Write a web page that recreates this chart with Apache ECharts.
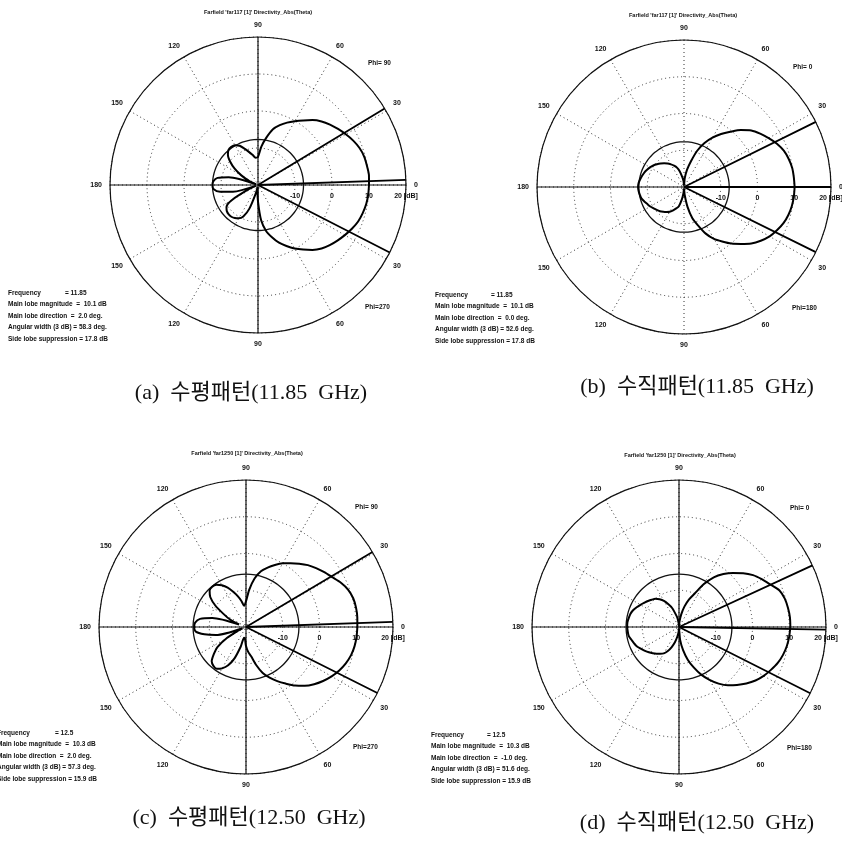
<!DOCTYPE html>
<html>
<head>
<meta charset="utf-8">
<script src="https://cdn.jsdelivr.net/npm/echarts@6/dist/echarts.min.js"></script>
<style>
  html, body { margin: 0; padding: 0; background: #fff; }
  #chart { width: 842px; height: 846px; }
</style>
</head>
<body>
<div id="chart"></div>
<script>
// Theta sampling of the far-field cuts (degrees, 0..360)
const ANGLES = [0,5,10,15,20,25,30,35,40,45,50,55,60,65,70,75,80,85,90,95,100,105,110,115,120,125,130,135,140,145,150,155,160,165,170,175,180,185,190,195,200,205,210,215,220,225,230,235,240,245,250,255,260,265,270,275,280,285,290,295,300,305,310,315,320,325,330,335,340,345,350,355,360];

// Directivity (dBi) along each cut
const DIR_H_1185 = [10.0,10.1,9.9,9.7,9.2,8.4,7.4,6.4,5.4,4.3,2.9,1.3,-0.1,-1.4,-2.8,-4.4,-7.0,-9.6,-12.4,-12.6,-11.8,-10.8,-9.6,-8.3,-7.6,-7.4,-7.6,-8.5,-10.2,-12.3,-14.8,-17.2,-19.5,-11.8,-8.9,-7.9,-7.7,-7.9,-9.6,-13.0,-19.5,-17.0,-11.8,-9.6,-9.0,-8.8,-8.8,-9.1,-9.6,-10.6,-13.2,-17.5,-19.5,-18.5,-15.5,-10.5,-7.4,-5.4,-3.4,-1.8,-0.2,1.3,2.9,4.3,5.3,6.2,7.1,8.0,8.8,9.3,9.7,9.9,10.0];
const DIR_V_1185 = [10.1,10.0,9.9,9.5,8.9,7.9,6.6,5.3,3.9,1.9,-0.4,-2.4,-4.5,-6.8,-9.5,-12.8,-15.2,-17.5,-19.5,-18.3,-17.2,-15.6,-14.4,-13.6,-12.9,-12.2,-11.6,-11.0,-10.4,-9.8,-9.3,-8.9,-8.5,-8.2,-7.9,-7.6,-7.5,-7.6,-7.8,-8.0,-8.5,-9.0,-9.4,-9.9,-10.3,-10.7,-11.2,-11.7,-12.2,-13.0,-13.8,-14.6,-16.5,-18.3,-19.5,-17.8,-14.5,-11.2,-8.9,-6.0,-3.7,-1.9,0.1,1.9,3.9,5.5,6.9,7.9,8.8,9.4,9.8,10.0,10.1];
const DIR_H_1250 = [10.3,10.4,10.4,10.2,9.6,8.5,7.1,6.0,4.9,3.8,2.5,1.2,0.0,-1.4,-2.8,-4.3,-6.6,-9.8,-13.0,-14.2,-12.8,-11.3,-9.8,-8.2,-6.9,-6.0,-5.7,-6.0,-7.3,-9.8,-13.0,-15.2,-18.0,-10.5,-7.3,-6.1,-5.9,-6.2,-8.5,-11.5,-19.0,-17.5,-14.0,-10.5,-8.6,-6.8,-6.2,-6.1,-7.0,-8.5,-11.0,-14.5,-17.0,-16.8,-14.8,-13.2,-11.9,-9.3,-6.7,-4.8,-3.0,-1.2,0.8,2.6,4.2,5.6,6.9,8.0,8.9,9.6,10.0,10.2,10.3];
const DIR_V_1250 = [10.3,10.3,10.1,9.8,9.1,7.4,6.0,4.6,2.8,0.8,-1.2,-3.5,-6.6,-10.0,-12.0,-14.2,-16.5,-18.5,-19.8,-19.0,-17.5,-16.3,-14.5,-13.2,-11.8,-10.8,-10.0,-9.5,-9.0,-8.5,-7.9,-7.3,-6.7,-6.3,-6.1,-5.9,-5.9,-6.0,-6.1,-6.6,-7.0,-7.4,-8.1,-8.7,-9.3,-9.9,-10.5,-11.1,-11.7,-12.8,-14.2,-15.7,-17.3,-18.6,-19.5,-16.5,-13.6,-10.8,-8.3,-5.7,-3.4,-1.2,0.7,2.3,3.9,5.4,6.6,7.6,8.6,9.3,9.8,10.1,10.3];

// Summary figures for each cut
const FREQ      = ['11.85', '11.85', '12.5', '12.5'];
const MAIN_MAG  = [10.1, 10.1, 10.3, 10.3];   // dB
const MAIN_DIR  = [2.0, 0.0, 2.0, -1.0];      // deg.
const WIDTH_3DB = [58.3, 52.6, 57.3, 51.6];   // deg.
const SLL_SUPP  = [17.8, 17.8, 15.9, 15.9];   // dB
const PHI_UP    = ['Phi= 90', 'Phi= 0', 'Phi= 90', 'Phi= 0'];
const PHI_DOWN  = ['Phi=270', 'Phi=180', 'Phi=270', 'Phi=180'];
const TITLES    = ["Farfield 'far117 [1]' Directivity_Abs(Theta)",
                   "Farfield 'far117 [1]' Directivity_Abs(Theta)",
                   "Farfield 'far1250 [1]' Directivity_Abs(Theta)",
                   "Farfield 'far1250 [1]' Directivity_Abs(Theta)"];
const CAPTIONS  = ['(a)  수평패턴(11.85  GHz)', '(b)  수직패턴(11.85  GHz)',
                   '(c)  수평패턴(12.50  GHz)', '(d)  수직패턴(12.50  GHz)'];
const R_TICKS   = [-20, -10, 0, 10, 20];

const PATTERNS = [DIR_H_1185, DIR_V_1185, DIR_H_1250, DIR_V_1250];

// Layout of the four plots
const LAYOUT = [
  { center: [258, 185], radius: 148, vertSolid: true,  title: [258, 12],  phiUp: [368, 63],  phiDown: [365, 307], info: [8, 293],   freqX: 65,  caption: [251, 393] },
  { center: [684, 187], radius: 147, vertSolid: false, title: [683, 15],  phiUp: [793, 67],  phiDown: [792, 308], info: [435, 295], freqX: 491, caption: [697, 387] },
  { center: [246, 627], radius: 147, vertSolid: true,  title: [247, 453], phiUp: [355, 507], phiDown: [353, 747], info: [-3, 733],  freqX: 55,  caption: [249, 818] },
  { center: [679, 627], radius: 147, vertSolid: true,  title: [680, 455], phiUp: [790, 508], phiDown: [787, 748], info: [431, 735], freqX: 487, caption: [697, 823] }
];

const SMALL = 'bold 6.5px "Liberation Sans", Arial, sans-serif';
const norm = a => ((a % 360) + 360) % 360;

const polar = [], angleAxis = [], radiusAxis = [], series = [], graphic = [];

LAYOUT.forEach((L, i) => {
  polar.push({ center: L.center, radius: L.radius });

  angleAxis.push({
    polarIndex: i, type: 'value', min: 0, max: 360, interval: 30,
    startAngle: 0, clockwise: false,
    axisLine: { show: true, lineStyle: { color: '#111', width: 1.2 } },
    axisTick: { show: false },
    axisLabel: {
      margin: 8, fontSize: 7, fontWeight: 'bold', color: '#111',
      fontFamily: 'Liberation Sans',
      formatter: v => (v >= 360 ? '' : String(v <= 180 ? v : 360 - v))
    },
    splitLine: { show: true, lineStyle: { color: '#333', type: [1, 3], width: 1 } }
  });

  radiusAxis.push({
    polarIndex: i, type: 'value', min: R_TICKS[0], max: R_TICKS[R_TICKS.length - 1], interval: 10,
    axisLine: { show: false }, axisTick: { show: false },
    axisLabel: {
      fontSize: 7, fontWeight: 'bold', color: '#111', fontFamily: 'Liberation Sans',
      margin: -8, verticalAlign: 'top',
      formatter: v => (v === R_TICKS[0] ? '' : (v === R_TICKS[R_TICKS.length - 1] ? v + ' [dB]' : String(v)))
    },
    splitLine: { show: true, lineStyle: { color: '#333', type: [1, 3], width: 1 } }
  });

  const base = { type: 'line', coordinateSystem: 'polar', polarIndex: i, showSymbol: false, silent: true, animation: false };

  // solid axes through the origin
  series.push(Object.assign({}, base, { data: [[20, 0], [20, 180]], lineStyle: { color: '#111', width: 1.2 }, z: 3 }));
  if (L.vertSolid) {
    series.push(Object.assign({}, base, { data: [[20, 90], [20, 270]], lineStyle: { color: '#111', width: 1.2 }, z: 3 }));
  }

  // side lobe level circle
  const sll = MAIN_MAG[i] - SLL_SUPP[i];
  series.push(Object.assign({}, base, {
    data: ANGLES.map(a => [sll, a]), smooth: true,
    lineStyle: { color: '#111', width: 1.3 }, z: 4
  }));

  // main lobe direction and 3 dB beamwidth lines
  const up = norm(MAIN_DIR[i] + WIDTH_3DB[i] / 2);
  const lo = norm(MAIN_DIR[i] - WIDTH_3DB[i] / 2);
  series.push(Object.assign({}, base, {
    data: [[20, up], [-20, 0], [20, lo]],
    lineStyle: { color: '#000', width: 1.8 }, z: 5
  }));
  series.push(Object.assign({}, base, {
    data: [[-20, 0], [20, norm(MAIN_DIR[i])]],
    lineStyle: { color: '#000', width: 1.8 }, z: 5
  }));

  // directivity pattern
  series.push(Object.assign({}, base, {
    data: ANGLES.map((a, k) => [PATTERNS[i][k], a]),
    smooth: 0.25,
    lineStyle: { color: '#000', width: 2 }, z: 6
  }));

  // texts
  graphic.push({ type: 'text', x: L.title[0], y: L.title[1],
    style: { text: TITLES[i], font: 'bold 5.5px "Liberation Sans", Arial, sans-serif', fill: '#111', align: 'center', verticalAlign: 'middle' } });
  graphic.push({ type: 'text', x: L.phiUp[0], y: L.phiUp[1],
    style: { text: PHI_UP[i], font: SMALL, fill: '#111', align: 'left', verticalAlign: 'middle' } });
  graphic.push({ type: 'text', x: L.phiDown[0], y: L.phiDown[1],
    style: { text: PHI_DOWN[i], font: SMALL, fill: '#111', align: 'left', verticalAlign: 'middle' } });

  const x0 = L.info[0], y0 = L.info[1];
  const lines = [
    null,
    'Main lobe magnitude  =  ' + MAIN_MAG[i].toFixed(1) + ' dB',
    'Main lobe direction  =  ' + MAIN_DIR[i].toFixed(1) + ' deg.',
    'Angular width (3 dB) = ' + WIDTH_3DB[i].toFixed(1) + ' deg.',
    'Side lobe suppression = ' + SLL_SUPP[i].toFixed(1) + ' dB'
  ];
  graphic.push({ type: 'text', x: x0, y: y0,
    style: { text: 'Frequency', font: SMALL, fill: '#111', align: 'left', verticalAlign: 'middle' } });
  graphic.push({ type: 'text', x: L.freqX, y: y0,
    style: { text: '= ' + FREQ[i], font: SMALL, fill: '#111', align: 'left', verticalAlign: 'middle' } });
  lines.forEach((t, k) => {
    if (!t) return;
    graphic.push({ type: 'text', x: x0, y: y0 + k * 11.5,
      style: { text: t, font: SMALL, fill: '#111', align: 'left', verticalAlign: 'middle' } });
  });

  graphic.push({ type: 'text', x: L.caption[0], y: L.caption[1],
    style: { text: CAPTIONS[i], font: '22px "Liberation Serif", "Noto Sans CJK KR", serif', fill: '#111', align: 'center', verticalAlign: 'middle' } });
});

const chart = echarts.init(document.getElementById('chart'), null, { renderer: 'canvas' });
chart.setOption({
  backgroundColor: '#fff',
  animation: false,
  polar, angleAxis, radiusAxis, series, graphic
});
</script>
</body>
</html>
